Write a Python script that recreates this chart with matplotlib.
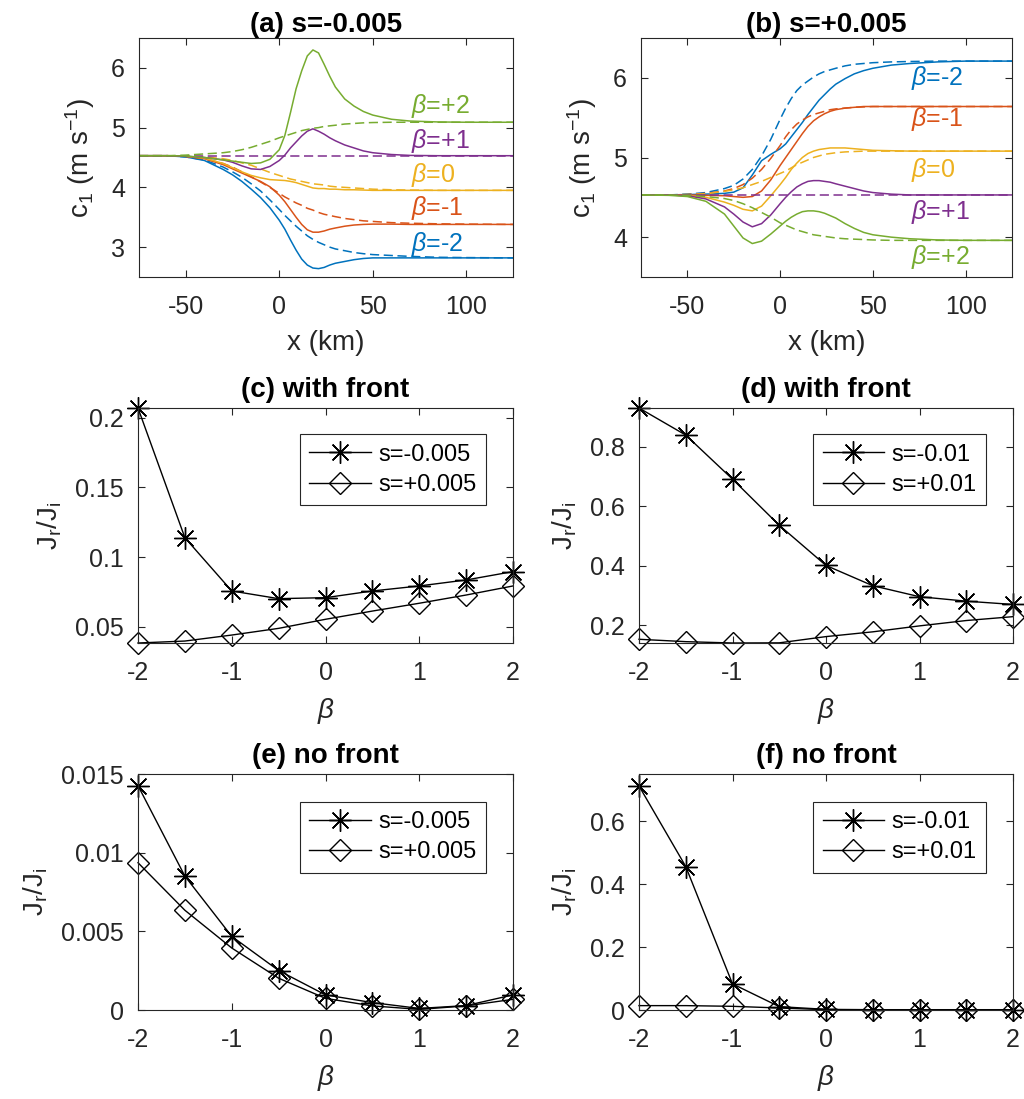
import numpy as np
import matplotlib
matplotlib.use('Agg')
import matplotlib.pyplot as plt
from matplotlib.ticker import FuncFormatter

plt.rcParams['font.family'] = ['Liberation Sans', 'DejaVu Sans']
plt.rcParams['mathtext.fontset'] = 'custom'
plt.rcParams['mathtext.rm'] = 'Liberation Sans'
plt.rcParams['mathtext.it'] = 'Liberation Sans:italic'
plt.rcParams['mathtext.bf'] = 'Liberation Sans:bold'

# colours (matlab default order)
blue = '#0072BD'
red = '#D95319'
yellow = '#EDB120'
purple = '#7E2F8E'
green = '#77AC30'
dark = '#262626'

# ---- panels (a),(b): c1 along x ----
x_km = [-75, -60, -50, -40, -30,
        -25, -20, -15, -10, -5,
        0, 3, 6, 9, 12,
        15, 18, 21, 24, 27,
        30, 35, 40, 45, 50,
        60, 70, 85, 100, 125]
c1_far = 4.53

# (a) s=-0.005
a_p2_solid = [4.53, 4.53, 4.525, 4.50, 4.46,
              4.44, 4.42, 4.40, 4.41, 4.47,
              4.63, 4.87, 5.25, 5.65, 5.95,
              6.20, 6.30, 6.25, 6.06, 5.86,
              5.68, 5.48, 5.36, 5.27, 5.21,
              5.14, 5.11, 5.095, 5.09, 5.09]
a_p2_dash = [4.53, 4.53, 4.54, 4.56, 4.58,
             4.60, 4.63, 4.67, 4.72, 4.77,
             4.83, 4.86, 4.89, 4.92, 4.95,
             4.97, 4.99, 5.00, 5.02, 5.03,
             5.04, 5.06, 5.07, 5.08, 5.085,
             5.09, 5.09, 5.09, 5.09, 5.09]
a_p1_solid = [4.53, 4.53, 4.52, 4.50, 4.46,
              4.42, 4.36, 4.31, 4.30, 4.35,
              4.45, 4.54, 4.66, 4.76, 4.86,
              4.94, 4.98, 4.94, 4.89, 4.83,
              4.78, 4.71, 4.66, 4.61, 4.58,
              4.55, 4.535, 4.53, 4.53, 4.53]
a_0_solid = [4.53, 4.53, 4.52, 4.49, 4.40,
             4.33, 4.26, 4.20, 4.16, 4.13,
             4.12, 4.115, 4.10, 4.08, 4.05,
             4.02, 3.99, 3.98, 3.98, 3.97,
             3.97, 3.96, 3.96, 3.955, 3.95,
             3.95, 3.95, 3.95, 3.95, 3.95]
a_0_dash = [4.53, 4.53, 4.525, 4.51, 4.48,
            4.45, 4.41, 4.37, 4.31, 4.25,
            4.20, 4.17, 4.14, 4.12, 4.10,
            4.08, 4.06, 4.05, 4.04, 4.02,
            4.01, 4.00, 3.99, 3.98, 3.97,
            3.96, 3.955, 3.95, 3.95, 3.95]
a_m1_solid = [4.53, 4.53, 4.52, 4.48, 4.38,
              4.31, 4.24, 4.17, 4.10, 4.01,
              3.87, 3.76, 3.63, 3.50, 3.38,
              3.29, 3.25, 3.25, 3.27, 3.30,
              3.32, 3.35, 3.37, 3.38, 3.385,
              3.385, 3.38, 3.38, 3.38, 3.38]
a_m1_dash = [4.53, 4.53, 4.52, 4.48, 4.40,
             4.34, 4.26, 4.18, 4.09, 4.00,
             3.90, 3.84, 3.79, 3.74, 3.70,
             3.65, 3.62, 3.58, 3.55, 3.53,
             3.51, 3.48, 3.46, 3.44, 3.43,
             3.41, 3.40, 3.39, 3.385, 3.38]
a_m2_solid = [4.53, 4.53, 4.51, 4.45, 4.30,
              4.21, 4.10, 3.97, 3.83, 3.66,
              3.45, 3.30, 3.12, 2.95, 2.80,
              2.70, 2.65, 2.64, 2.66, 2.70,
              2.73, 2.76, 2.79, 2.81, 2.82,
              2.82, 2.82, 2.82, 2.82, 2.82]
a_m2_dash = [4.53, 4.53, 4.51, 4.46, 4.34,
             4.26, 4.17, 4.06, 3.94, 3.79,
             3.63, 3.53, 3.44, 3.35, 3.27,
             3.19, 3.13, 3.08, 3.04, 3.00,
             2.97, 2.94, 2.91, 2.89, 2.875,
             2.86, 2.845, 2.83, 2.825, 2.82]

# (b) s=+0.005
b_m2_solid = [4.53, 4.53, 4.535, 4.54, 4.55,
              4.565, 4.62, 4.78, 4.96, 5.04,
              5.11, 5.17, 5.26, 5.35, 5.44,
              5.54, 5.63, 5.72, 5.79, 5.86,
              5.92, 5.99, 6.05, 6.09, 6.12,
              6.16, 6.18, 6.20, 6.21, 6.21]
b_m2_dash = [4.53, 4.53, 4.54, 4.56, 4.61,
             4.65, 4.73, 4.85, 5.02, 5.23,
             5.48, 5.62, 5.74, 5.84, 5.91,
             5.96, 6.01, 6.05, 6.08, 6.10,
             6.12, 6.15, 6.17, 6.18, 6.19,
             6.20, 6.205, 6.21, 6.21, 6.21]
b_m1_solid = [4.53, 4.53, 4.53, 4.525, 4.52,
              4.51, 4.50, 4.51, 4.58, 4.72,
              4.90, 5.00, 5.10, 5.20, 5.30,
              5.39, 5.46, 5.51, 5.55, 5.58,
              5.60, 5.62, 5.63, 5.64, 5.64,
              5.64, 5.64, 5.64, 5.64, 5.64]
b_m1_dash = [4.53, 4.53, 4.535, 4.55, 4.58,
             4.61, 4.66, 4.74, 4.85, 4.99,
             5.15, 5.26, 5.35, 5.42, 5.47,
             5.51, 5.54, 5.56, 5.58, 5.60,
             5.61, 5.62, 5.63, 5.635, 5.64,
             5.64, 5.64, 5.64, 5.64, 5.64]
b_0_solid = [4.53, 4.53, 4.52, 4.50, 4.44,
             4.40, 4.35, 4.33, 4.39, 4.52,
             4.66, 4.75, 4.85, 4.93, 5.00,
             5.05, 5.08, 5.10, 5.11, 5.12,
             5.12, 5.12, 5.11, 5.10, 5.09,
             5.085, 5.08, 5.08, 5.08, 5.08]
b_0_dash = [4.53, 4.53, 4.535, 4.545, 4.575,
            4.595, 4.62, 4.66, 4.70, 4.75,
            4.80, 4.83, 4.87, 4.91, 4.94,
            4.97, 5.00, 5.02, 5.04, 5.05,
            5.06, 5.07, 5.075, 5.08, 5.08,
            5.08, 5.08, 5.08, 5.08, 5.08]
b_p1_solid = [4.53, 4.53, 4.52, 4.48, 4.38,
              4.29, 4.19, 4.13, 4.17, 4.28,
              4.42, 4.50, 4.57, 4.63, 4.67,
              4.70, 4.71, 4.71, 4.70, 4.69,
              4.67, 4.64, 4.61, 4.58, 4.56,
              4.54, 4.53, 4.53, 4.53, 4.53]
b_p2_solid = [4.53, 4.525, 4.51, 4.45, 4.29,
              4.14, 3.99, 3.92, 3.95, 4.04,
              4.14, 4.20, 4.25, 4.29, 4.32,
              4.33, 4.33, 4.32, 4.30, 4.27,
              4.24, 4.17, 4.11, 4.06, 4.03,
              4.00, 3.98, 3.965, 3.96, 3.96]
b_p2_dash = [4.53, 4.53, 4.525, 4.51, 4.485,
             4.46, 4.42, 4.37, 4.31, 4.25,
             4.18, 4.15, 4.12, 4.09, 4.07,
             4.05, 4.03, 4.02, 4.01, 4.00,
             3.99, 3.98, 3.975, 3.97, 3.965,
             3.96, 3.96, 3.96, 3.96, 3.96]

# ---- panels (c)-(f): Jr/Ji vs beta ----
beta = [-2, -1.5, -1, -0.5, 0, 0.5, 1, 1.5, 2]
c_neg = [0.207, 0.114, 0.0758, 0.0703, 0.071, 0.0758, 0.0794, 0.0837, 0.0897]
c_pos = [0.0385, 0.0399, 0.0442, 0.049, 0.0555, 0.0614, 0.067, 0.0729, 0.0794]
d_neg = [0.930, 0.839, 0.691, 0.536, 0.401, 0.333, 0.296, 0.281, 0.270]
d_pos = [0.153, 0.145, 0.1405, 0.141, 0.162, 0.178, 0.198, 0.216, 0.229]
e_neg = [0.01426, 0.00851, 0.00468, 0.00251, 0.00096, 0.00047, 0.0001, 0.00028, 0.00096]
e_pos = [0.00936, 0.00634, 0.00394, 0.00202, 0.00074, 0.00026, 0.00004, 0.00026, 0.00068]
f_neg = [0.712, 0.456, 0.083, 0.0107, 0.002, 0.001, 0.001, 0.001, 0.001]
f_pos = [0.0139, 0.0139, 0.0117, 0.0064, 0.001, 0.0005, 0.0005, 0.0005, 0.0005]

W, H = 1024, 1099
fig = plt.figure(figsize=(W / 100, H / 100), dpi=100)


def box(l, t, r, b):
    return [l / W, 1 - b / H, (r - l) / W, (b - t) / H]


def style(ax):
    ax.tick_params(direction='in', top=True, right=True, length=5, width=0.8,
                   colors=dark, labelsize=18, pad=10)
    ax.tick_params(axis='x', pad=13)
    for sp in ax.spines.values():
        sp.set_color(dark)
        sp.set_linewidth(0.8)
    ax.yaxis.set_major_formatter(FuncFormatter(lambda v, p: '%g' % v))
    ax.xaxis.set_major_formatter(FuncFormatter(lambda v, p: '%g' % v))


dash = (0, (6, 3))
lw = 1.1

# (a)
ax = fig.add_axes(box(139, 38, 513, 277))
style(ax)
a_sets = [(a_m2_solid, a_m2_dash, blue), (a_m1_solid, a_m1_dash, red),
          (a_0_solid, a_0_dash, yellow)]
for s, d, c in a_sets:
    ax.plot(x_km, d, color=c, lw=lw, ls=dash)
    ax.plot(x_km, s, color=c, lw=lw)
ax.plot([-75, 125], [c1_far, c1_far], color=purple, lw=lw, ls=dash)
ax.plot(x_km, a_p1_solid, color=purple, lw=lw)
ax.plot(x_km, a_p2_dash, color=green, lw=lw, ls=dash)
ax.plot(x_km, a_p2_solid, color=green, lw=lw)
for txt, yy, c in [('+2', 5.36, green), ('+1', 4.77, purple), ('0', 4.21, yellow),
                   ('-1', 3.65, red), ('-2', 3.05, blue)]:
    ax.text(70.5, yy, r'$\beta$=' + txt, color=c, fontsize=18, va='center')
ax.set_xlim(-75, 125)
ax.set_ylim(2.5, 6.5)
ax.set_xticks([-50, 0, 50, 100])
ax.set_yticks([3, 4, 5, 6])
ax.set_xlabel('x (km)', fontsize=20, color=dark, labelpad=8)
ax.set_ylabel(r'c$_1$ (m s$^{-1}$)', fontsize=20, color=dark, labelpad=10)
ax.set_title('(a) s=-0.005', fontsize=20, fontweight='bold', pad=4)

# (b)
ax = fig.add_axes(box(641, 38, 1012, 277))
style(ax)
b_sets = [(b_m2_solid, b_m2_dash, blue), (b_m1_solid, b_m1_dash, red),
          (b_0_solid, b_0_dash, yellow)]
for s, d, c in b_sets:
    ax.plot(x_km, d, color=c, lw=lw, ls=dash)
    ax.plot(x_km, s, color=c, lw=lw)
ax.plot([-75, 125], [c1_far, c1_far], color=purple, lw=lw, ls=dash)
ax.plot(x_km, b_p1_solid, color=purple, lw=lw)
ax.plot(x_km, b_p2_dash, color=green, lw=lw, ls=dash)
ax.plot(x_km, b_p2_solid, color=green, lw=lw)
for txt, yy, c in [('-2', 6.0, blue), ('-1', 5.48, red), ('0', 4.84, yellow),
                   ('+1', 4.32, purple), ('+2', 3.75, green)]:
    ax.text(70.5, yy, r'$\beta$=' + txt, color=c, fontsize=18, va='center')
ax.set_xlim(-75, 125)
ax.set_ylim(3.5, 6.5)
ax.set_xticks([-50, 0, 50, 100])
ax.set_yticks([4, 5, 6])
ax.set_xlabel('x (km)', fontsize=20, color=dark, labelpad=8)
ax.set_ylabel(r'c$_1$ (m s$^{-1}$)', fontsize=20, color=dark, labelpad=10)
ax.set_title('(b) s=+0.005', fontsize=20, fontweight='bold', pad=4)

# (c)-(f)
star = (8, 2, 0)
panels = [
    (box(138, 408, 513, 643), c_neg, c_pos, 's=-0.005', 's=+0.005', '(c) with front',
     None, [0.05, 0.1, 0.15, 0.2]),
    (box(639, 408, 1013, 643), d_neg, d_pos, 's=-0.01', 's=+0.01', '(d) with front',
     None, [0.2, 0.4, 0.6, 0.8]),
    (box(138, 774, 513, 1010), e_neg, e_pos, 's=-0.005', 's=+0.005', '(e) no front',
     (0, 0.015), [0, 0.005, 0.01, 0.015]),
    (box(639, 774, 1013, 1010), f_neg, f_pos, 's=-0.01', 's=+0.01', '(f) no front',
     (0, 0.75), [0, 0.2, 0.4, 0.6]),
]
for rect, yn, yp, ln, lp, title, ylim, yt in panels:
    ax = fig.add_axes(rect)
    style(ax)
    ax.plot(beta, yn, color='k', lw=1.0, marker=star, ms=16, mew=1.0,
            label=ln, clip_on=False)
    ax.plot(beta, yp, color='k', lw=1.0, marker='D', ms=11, mew=1.0,
            mfc='none', label=lp, clip_on=False)
    ax.set_xlim(-2, 2)
    if ylim is None:
        ylim = (min(min(yn), min(yp)), max(max(yn), max(yp)))
    ax.set_ylim(*ylim)
    ax.set_xticks([-2, -1, 0, 1, 2])
    ax.set_yticks(yt)
    ax.set_xlabel(r'$\beta$', fontsize=20, color=dark, labelpad=8)
    ax.set_ylabel(r'J$_\mathrm{r}$/J$_\mathrm{i}$', fontsize=20, color=dark, labelpad=8)
    ax.set_title(title, fontsize=20, fontweight='bold', pad=8)
    top = 0.889 if title[1] in 'cd' else 0.883
    leg = ax.legend(loc='upper right', bbox_to_anchor=(0.927, top), fontsize=17,
                    fancybox=False, framealpha=1, edgecolor=dark, handlelength=2.6,
                    borderaxespad=0, labelspacing=0.35, handletextpad=0.3,
                    borderpad=0.4)
    leg.get_frame().set_linewidth(0.8)

fig.savefig('out.png', dpi=100)
